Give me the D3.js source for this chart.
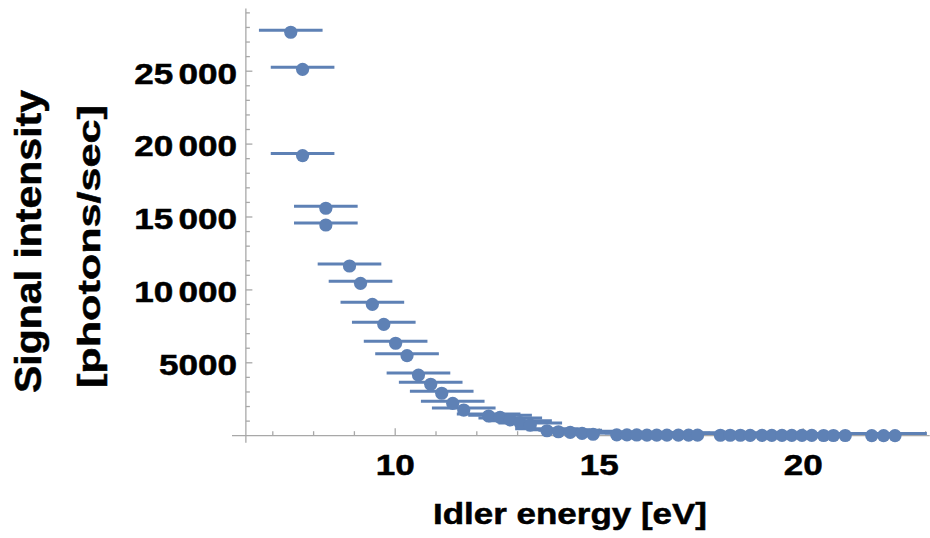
<!DOCTYPE html>
<html>
<head>
<meta charset="utf-8">
<script src="https://cdn.jsdelivr.net/npm/d3@7"></script>
<style>
  html, body { margin: 0; padding: 0; background: #ffffff; }
  svg { display: block; }
  text { font-family: "Liberation Sans", Arial, sans-serif; font-weight: bold; fill: #000; stroke: #000; stroke-width: 0.5; }
</style>
</head>
<body>
<svg id="chart" width="930" height="538"></svg>
<script>
// ---- data ----
const energy = [7.44, 7.73, 7.73, 8.30, 8.30, 8.88, 9.15, 9.44, 9.72, 10.01,
  10.29, 10.57, 10.87, 11.14, 11.41, 11.68, 12.29, 12.57, 12.82, 13.06,
  13.31, 13.72, 14.00, 14.29, 14.58, 14.85,
  15.43, 15.68, 15.92, 16.17, 16.41, 16.66, 16.94, 17.19, 17.41,
  17.97, 18.21, 18.46, 18.70, 18.99, 19.23, 19.48, 19.72, 19.97, 20.21, 20.50, 20.74, 21.03,
  21.68, 21.97, 22.25];
const intensity = [27670, 25130, 19210, 15600, 14450, 11640, 10450, 9010, 7640, 6340,
  5490, 4160, 3530, 2910, 2220, 1760, 1350, 1260, 1080, 890,
  730, 340, 270, 230, 160, 100,
  60, 55, 50, 45, 45, 40, 40, 35, 35,
  30, 30, 30, 25, 25, 25, 20, 20, 20, 20, 15, 15, 15,
  10, 10, 10];
const energyError = energy.map(() => 0.78);

const xTickMajor = [10, 15, 20];
const xTickMinor = [7, 8, 9, 11, 12, 13, 14, 16, 17, 18, 19, 21, 22, 23];
const yTickMajor = [5000, 10000, 15000, 20000, 25000];
const yTickMinor = d3.range(1000, 30000, 1000).filter(v => v % 5000 !== 0);

const xTitle = "Idler energy [eV]";
const yTitle = ["Signal intensity", "[photons/sec]"];

// ---- layout ----
const color = "#5e81b5";
const axisColor = "#a8a8a8";
const svg = d3.select("#chart");
svg.append("rect").attr("width", 930).attr("height", 538).attr("fill", "#fff");

const x = d3.scaleLinear().domain([6.0, 23.1]).range([232, 929.7]);
const y = d3.scaleLinear().domain([0, 29300]).range([435.7, 8.5]);
const yAxisAt = 6.34;
const yBottom = -480;

const data = energy.map((e, i) => ({ e, v: intensity[i], err: energyError[i] }));

// axes lines
const axes = svg.append("g").attr("stroke", axisColor).attr("stroke-width", 1.3).attr("fill", "none");
axes.append("line").attr("x1", x(6.0)).attr("x2", x(23.1)).attr("y1", y(0)).attr("y2", y(0));
axes.append("line").attr("x1", x(yAxisAt)).attr("x2", x(yAxisAt)).attr("y1", y(yBottom)).attr("y2", y(29300));

// x ticks (pointing up)
axes.selectAll(".xmaj").data(xTickMajor).join("line")
  .attr("x1", d => x(d)).attr("x2", d => x(d)).attr("y1", y(0)).attr("y2", y(0) - 7.5);
axes.selectAll(".xmin").data(xTickMinor).join("line")
  .attr("x1", d => x(d)).attr("x2", d => x(d)).attr("y1", y(0)).attr("y2", y(0) - 4.5);
// y ticks (pointing right)
axes.selectAll(".ymaj").data(yTickMajor).join("line")
  .attr("x1", x(yAxisAt)).attr("x2", x(yAxisAt) + 6.5).attr("y1", d => y(d)).attr("y2", d => y(d));
axes.selectAll(".ymin").data(yTickMinor).join("line")
  .attr("x1", x(yAxisAt)).attr("x2", x(yAxisAt) + 4).attr("y1", d => y(d)).attr("y2", d => y(d));

// tick labels
svg.append("g").selectAll("text").data(xTickMajor).join("text")
  .attr("transform", d => `translate(${x(d)},475) scale(1.17,1)`)
  .attr("text-anchor", "middle").attr("font-size", 30)
  .text(d => d);
const yLabels = svg.append("g").selectAll("text").data(yTickMajor).join("text")
  .attr("transform", d => `translate(237,${y(d) + 12.4}) scale(1.17,1)`)
  .attr("text-anchor", "end").attr("font-size", 30);
yLabels.each(function(d) {
  const s = String(d);
  const t = d3.select(this);
  if (s.length > 4) {
    t.append("tspan").text(s.slice(0, s.length - 3));
    t.append("tspan").attr("dx", 4.5).text(s.slice(-3));
  } else {
    t.text(s);
  }
});

// axis titles
svg.append("text").attr("x", 570).attr("y", 524).attr("text-anchor", "middle")
  .attr("font-size", 30).attr("textLength", 274).attr("lengthAdjust", "spacingAndGlyphs")
  .text(xTitle);
svg.append("text").attr("transform", "translate(41,241.5) rotate(-90)")
  .attr("text-anchor", "middle").attr("font-size", 36)
  .attr("textLength", 303).attr("lengthAdjust", "spacingAndGlyphs")
  .text(yTitle[0]);
svg.append("text").attr("transform", "translate(100,246.5) rotate(-90)")
  .attr("text-anchor", "middle").attr("font-size", 31)
  .attr("textLength", 283).attr("lengthAdjust", "spacingAndGlyphs")
  .text(yTitle[1]);

// error bars
svg.append("g").attr("transform", "translate(0,-2)")
  .selectAll("line").data(data).join("line")
  .attr("x1", d => x(d.e - d.err)).attr("x2", d => x(d.e + d.err))
  .attr("y1", d => y(d.v)).attr("y2", d => y(d.v))
  .attr("stroke", color).attr("stroke-width", 3);

// points
svg.append("g").selectAll("circle").data(data).join("circle")
  .attr("cx", d => x(d.e)).attr("cy", d => y(d.v)).attr("r", 6.6)
  .attr("fill", color);
</script>
</body>
</html>
